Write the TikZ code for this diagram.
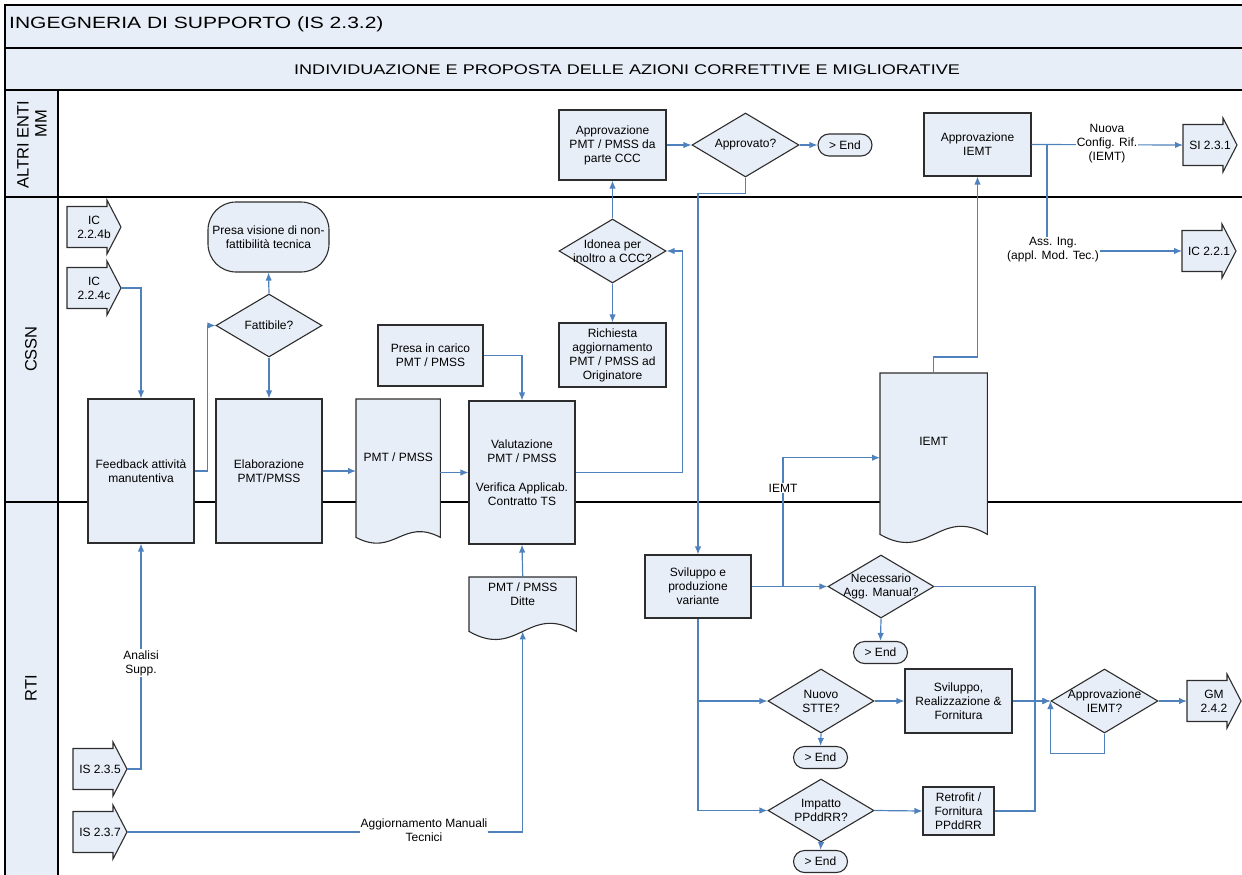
\documentclass[tikz,border=0pt]{standalone}
\usepackage{fontspec}
\setmainfont{Liberation Sans}
\usetikzlibrary{shapes.geometric,arrows.meta,calc}
\definecolor{fillc}{RGB}{232,238,247}
\definecolor{linec}{RGB}{79,129,189}
\definecolor{bordc}{RGB}{45,45,45}
\newcommand{\fs}{\fontsize{12}{14}\selectfont}
\tikzset{
  shp/.style={draw=bordc, fill=fillc, line width=1.1pt},
  box/.style={shp, align=center, inner sep=1pt, font=\fs},
  proc/.style={box, rectangle},
  dec/.style={shp, diamond, inner sep=0pt},
  term/.style={box, rectangle, rounded corners=11pt, minimum width=54pt, minimum height=22pt},
  txt/.style={align=center, font=\fs, inner sep=0pt},
  lbl/.style={fill=white, align=center, inner sep=1pt, font=\fs},
  arr/.style={draw=linec, line width=1.2pt, -{Latex[length=8pt,width=6.5pt]}},
  ln/.style={draw=linec, line width=1.2pt},
  lane/.style={draw=black, line width=1.2pt},
}
% off-page connector: name, left x, mid y, text
\newcommand{\offpg}[4]{%
  \draw[shp] (#2,#3-20.5) -- (#2+40,#3-20.5) -- (#2+40,#3-27) -- (#2+54,#3) -- (#2+40,#3+27) -- (#2+40,#3+20.5) -- (#2,#3+20.5) -- cycle;
  \node[txt] (#1) at (#2+27,#3) {#4};
  \coordinate (#1-tip) at (#2+54,#3);
  \coordinate (#1-in) at (#2,#3);
}
% document shape: name, left x, top y, width, side bottom y, wave amplitude ctrl, text
\newcommand{\docnode}[7]{%
  \node[inner sep=0pt, minimum width=#4, minimum height=#5-#3, anchor=north west] (#1) at (#2,#3) {};
  \draw[shp] (#1.north west) -- (#1.north east) -- (#1.south east)
    .. controls ($(#1.south east)+(-0.45*#4,-#6)$) and ($(#1.south east)+(-0.55*#4,#6)$) .. (#1.south west) -- cycle;
  \node[txt] (#1-t) at (#1.center) {#7};
}
\begin{document}
\begin{tikzpicture}[x=1pt,y=-1pt]
\useasboundingbox (0,0) rectangle (1242,875);
% ---------- frame and lanes ----------
\fill[fillc] (5,5) rectangle (1242,90);
\fill[fillc] (5,90) rectangle (58,875);
\draw[lane] (1242,5) -- (5,5) -- (5,875);
\draw[lane] (5,48) -- (1242,48);
\draw[lane] (5,90) -- (1242,90);
\draw[lane] (58,90) -- (58,875);
\draw[lane] (5,197) -- (1242,197);
\draw[lane] (5,502) -- (1242,502);
\node[anchor=west, inner sep=0pt, font=\fontsize{16.3}{19}\selectfont] (title) at (9,24) {\scalebox{1.29}[1]{INGEGNERIA DI SUPPORTO (IS 2.3.2)}};
\node[inner sep=0pt, font=\fontsize{14}{17}\selectfont] (subtitle) at (627,69.5) {\scalebox{1.29}[1]{INDIVIDUAZIONE E PROPOSTA DELLE AZIONI CORRETTIVE E MIGLIORATIVE}};
\node[rotate=90, align=right, inner sep=0pt, font=\fontsize{16.5}{18}\selectfont] (laneA) at (32,145) {ALTRI ENTI\\MM\hspace*{9pt}};
\node[rotate=90, inner sep=0pt, font=\fontsize{16.5}{18}\selectfont] (laneB) at (31,349) {CSSN};
\node[rotate=90, inner sep=0pt, font=\fontsize{16.5}{18}\selectfont] (laneC) at (31,688) {RTI};

% ---------- off-page connectors ----------
\offpg{ic224b}{67}{227}{IC\\2.2.4b}
\offpg{ic224c}{67}{288}{IC\\2.2.4c}
\offpg{is235}{73}{769}{IS 2.3.5}
\offpg{is237}{73}{832}{IS 2.3.7}
\offpg{si231}{1183}{145}{SI 2.3.1}
\offpg{ic221}{1182}{251}{IC 2.2.1}
\offpg{gm242}{1187}{701}{GM\\2.4.2}

% ---------- CSSN ----------
\node[box, rectangle, rounded corners=28pt, inner sep=0pt, minimum width=121pt, minimum height=70pt] (presavis) at (268.5,237) {Presa visione di non-\\fattibilità tecnica};
\node[dec, minimum width=106pt, minimum height=63pt, label={[txt]center:Fattibile?}] (fatt) at (269,325.5) {};
\node[proc, minimum width=106pt, minimum height=144pt] (feed) at (141,471) {Feedback attività\\manutentiva};
\node[proc, minimum width=106pt, minimum height=144pt] (elab) at (269,471) {Elaborazione\\PMT/PMSS};
\docnode{pmt}{356}{399}{84}{537}{20}{PMT / PMSS\\[8pt]}
\node[proc, minimum width=106pt, minimum height=143pt] (valut) at (522,472.5) {Valutazione\\PMT / PMSS\\[15pt]Verifica Applicab.\\Contratto TS};
\node[proc, minimum width=105pt, minimum height=61pt] (presac) at (430.5,355.5) {Presa in carico\\PMT / PMSS};
\node[dec, minimum width=107pt, minimum height=64pt, label={[txt]center:{Idonea per\\inoltro a CCC?}}] (idonea) at (612.5,251) {};
\node[proc, minimum width=107pt, minimum height=64pt] (richiesta) at (612.5,355) {Richiesta\\aggiornamento\\PMT / PMSS ad\\Originatore};
\docnode{iemt}{880}{373}{107}{534}{28}{IEMT\\[10pt]}

% ---------- ALTRI ENTI MM ----------
\node[proc, minimum width=107pt, minimum height=70pt] (appccc) at (612.5,145) {Approvazione\\PMT / PMSS da\\parte CCC};
\node[dec, minimum width=107pt, minimum height=64pt, label={[txt]center:Approvato?}] (approvato) at (745.5,145) {};
\node[term] (end1) at (845,145) {> End};
\node[proc, minimum width=107pt, minimum height=63pt] (appiemt) at (977.5,144.5) {Approvazione\\IEMT};

% ---------- RTI ----------
\docnode{ditte}{469}{577}{107}{631}{28}{PMT / PMSS\\Ditte\\[6pt]}
\node[proc, minimum width=106pt, minimum height=63pt] (svilvar) at (698,586.5) {Sviluppo e\\produzione\\variante};
\node[dec, minimum width=106pt, minimum height=63pt, label={[txt]center:{Necessario\\Agg. Manual?}}] (necess) at (881,586.5) {};
\node[term] (end2) at (880.5,652.5) {> End};
\node[dec, minimum width=106pt, minimum height=64pt, label={[txt]center:{Nuovo\\STTE?}}] (nuovo) at (821,701) {};
\node[term] (end3) at (820.5,757.5) {> End};
\node[proc, minimum width=107pt, minimum height=64pt] (svilreal) at (958.5,701) {Sviluppo,\\Realizzazione \&\\Fornitura};
\node[dec, minimum width=107pt, minimum height=64pt, label={[txt]center:{Approvazione\\IEMT?}}] (appq) at (1104.5,701) {};
\node[dec, minimum width=106pt, minimum height=63pt, label={[txt]center:{Impatto\\PPddRR?}}] (impatto) at (821,810.5) {};
\node[term] (end4) at (820.5,861.5) {> End};
\node[proc, minimum width=71pt, minimum height=48pt] (retrofit) at (958.5,811) {Retrofit /\\Fornitura\\PPddRR};

% ---------- connectors ----------
\draw[arr] (ic224c-tip) -| (feed.north);
\draw[arr] (feed.east) -- ++(13,0) |- (fatt.west);
\draw[arr] (fatt.north) -- (presavis.south);
\draw[arr] (fatt.south) -- (elab.north);
\draw[arr] (elab.east) -- (elab.east -| pmt.west);
\draw[arr] (valut.west -| pmt.east) -- (valut.west);
\draw[arr] (presac.east) -| (valut.north);
\draw[arr] (ditte.north) -- (valut.south);
\draw[arr] (is237-tip) -| (ditte.south);
\node[lbl] (lblagg) at (424,830) {Aggiornamento Manuali\\Tecnici};
\draw[arr] (is235-tip) -| (feed.south);
\node[lbl] (lblana) at (141,663) {Analisi\\Supp.};
\draw[arr] (valut.east) -| ([xshift=16pt]idonea.east) -- (idonea.east);
\draw[arr] (idonea.north) -- (appccc.south);
\draw[arr] (idonea.south) -- (richiesta.north);
\draw[arr] (appccc.east) -- (approvato.west);
\draw[arr] (approvato.east) -- (end1.west);
\draw[arr] (approvato.south) -- ++(0,16) -| (svilvar.north);
\draw[arr] (svilvar.east) -- (necess.west);
\coordinate (jI) at (783,586.5);
\draw[arr] (jI) |- ($(iemt.west)+(0,4)$);
\node[lbl] (lbliemt) at (783,488) {IEMT};
\draw[arr] (iemt.north) -- ++(0,-16) -| (appiemt.south);
\draw[arr] (appiemt.east) -- (si231-in);
\node[lbl] (lblnuova) at (1107,144) {Nuova\\Config. Rif.\\(IEMT)};
\coordinate (jA) at (1047,144.5);
\draw[arr] (jA) |- (ic221-in);
\node[lbl] (lblass) at (1053,250) {Ass. Ing.\\(appl. Mod. Tec.)};
\draw[arr] (necess.south) -- (end2.north);
\coordinate (jM) at (1035,701);
\draw[arr] (necess.east) -| (jM) -- (appq.west);
\draw[arr] (svilvar.south) |- (nuovo.west);
\draw[arr] (svilvar.south) |- (impatto.west);
\draw[arr] (nuovo.east) -- (svilreal.west);
\draw[arr] (nuovo.south) -- (end3.north);
\draw[arr] (svilreal.east) -- (appq.west);
\draw[arr] (impatto.east) -- (retrofit.west);
\draw[arr] (impatto.south) -- (end4.north);
\draw[ln] (retrofit.east) -| (jM);
\draw[arr] (appq.south) -- ++(0,20) -| (appq.west);
\draw[arr] (appq.east) -- (gm242-in);
\end{tikzpicture}
\end{document}
